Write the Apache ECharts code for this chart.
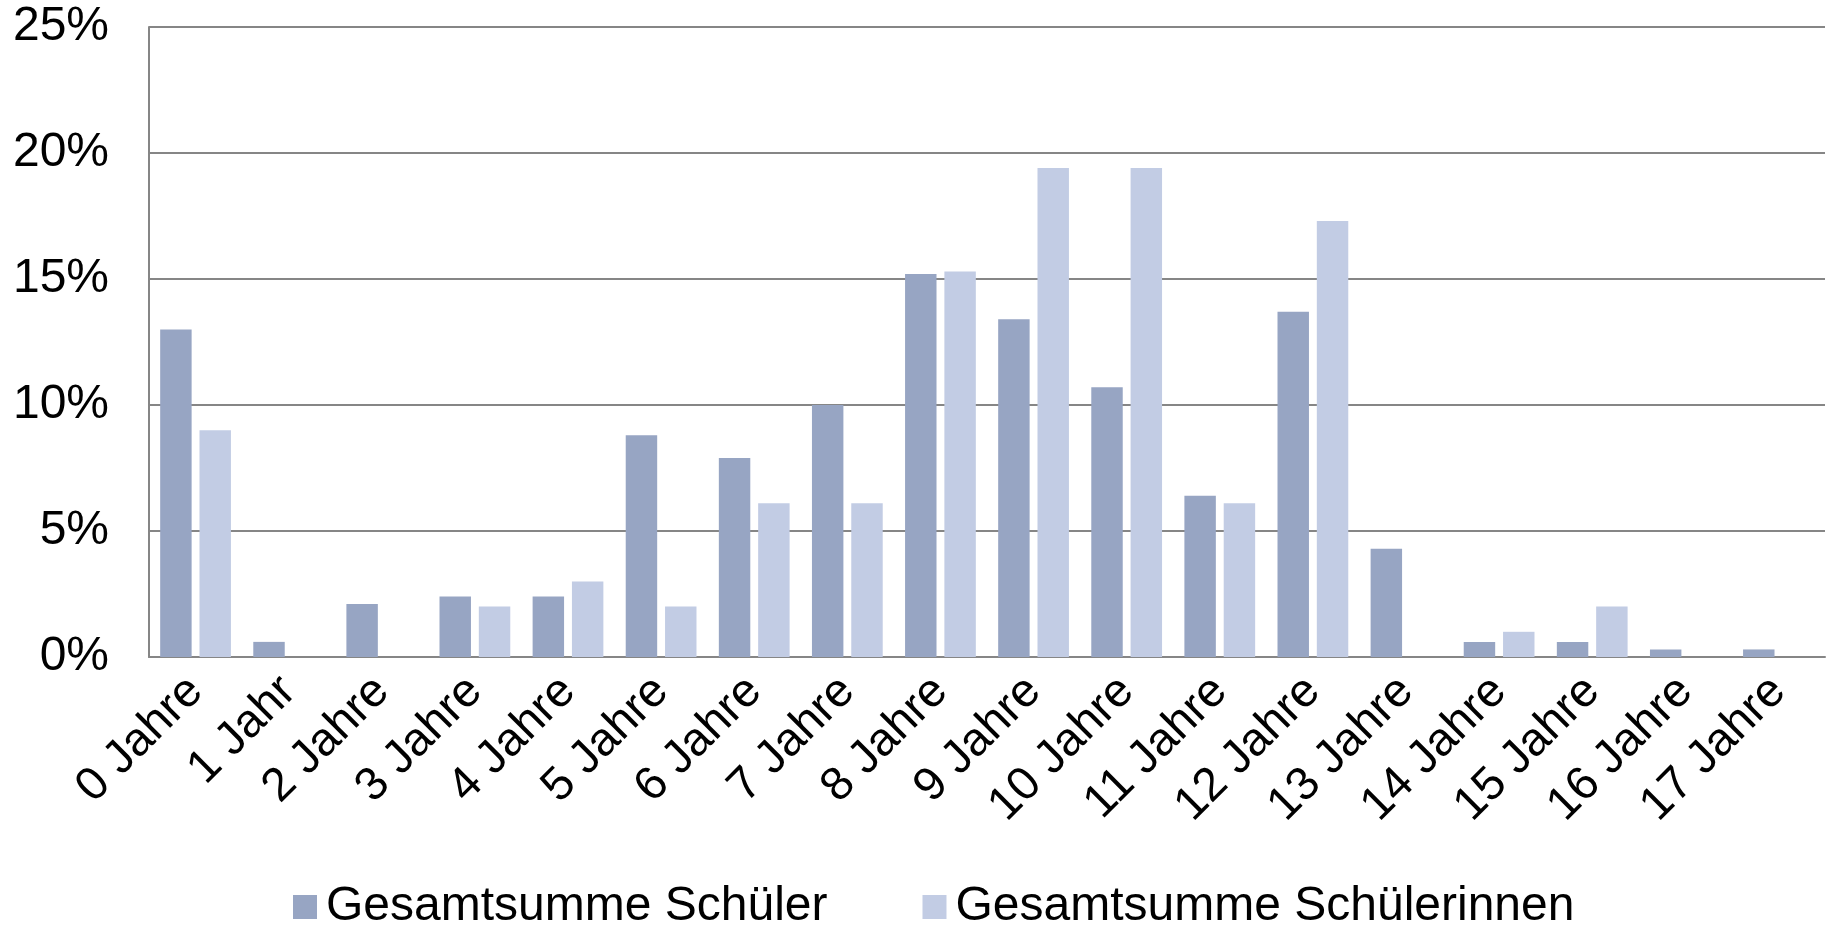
<!DOCTYPE html>
<html lang="de">
  <head>
    <meta charset="UTF-8" />
    <title>Altersverteilung Schüler / Schülerinnen</title>
    <script src="https://cdnjs.cloudflare.com/ajax/libs/echarts/6.0.0/echarts.min.js"></script>
    <style>
      html, body { margin: 0; padding: 0; background: #fff; }
      #main { width: 1826px; height: 930px; }
    </style>
  </head>
  <body>
    <div id="main"></div>
    <script type="text/javascript">
      // Kategorien (Alter)
      var categories = [
        "0 Jahre", "1 Jahr", "2 Jahre", "3 Jahre", "4 Jahre", "5 Jahre",
        "6 Jahre", "7 Jahre", "8 Jahre", "9 Jahre", "10 Jahre", "11 Jahre",
        "12 Jahre", "13 Jahre", "14 Jahre", "15 Jahre", "16 Jahre", "17 Jahre"
      ];
      // Anteile in Prozent
      var schueler = [13.0, 0.6, 2.1, 2.4, 2.4, 8.8, 7.9, 10.0, 15.2, 13.4, 10.7, 6.4, 13.7, 4.3, 0.6, 0.6, 0.3, 0.3];
      var schuelerinnen = [9.0, 0, 0, 2.0, 3.0, 2.0, 6.1, 6.1, 15.3, 19.4, 19.4, 6.1, 17.3, 0, 1.0, 2.0, 0, 0];
      var seriesNames = ["Gesamtsumme Schüler", "Gesamtsumme Schülerinnen"];
      var yTicks = [0, 5, 10, 15, 20, 25];

      var myChart = echarts.init(document.getElementById("main"));
      var font = "'Liberation Sans', Arial, sans-serif";
      var lineColor = "#868686";

      var option = {
        animation: false,
        textStyle: { fontFamily: font },
        grid: { left: 149, right: 1, top: 27, bottom: 273, containLabel: false },
        legend: {
          data: seriesNames,
          left: 288,
          top: 878,
          itemWidth: 24,
          itemHeight: 24,
          itemGap: 95,
          icon: "rect",
          textStyle: { fontSize: 48, color: "#000", fontFamily: font, padding: [0, 0, 0, 4] }
        },
        xAxis: {
          type: "category",
          data: categories,
          axisLine: { lineStyle: { color: lineColor, width: 2 } },
          axisTick: { show: false },
          axisLabel: {
            rotate: 45,
            interval: 0,
            margin: 27,
            fontSize: 47,
            color: "#000",
            fontFamily: font
          }
        },
        yAxis: {
          type: "value",
          min: yTicks[0],
          max: yTicks[yTicks.length - 1],
          interval: yTicks[1] - yTicks[0],
          axisLine: { show: true, lineStyle: { color: lineColor, width: 2 } },
          axisTick: { show: false },
          splitLine: { lineStyle: { color: lineColor, width: 2 } },
          axisLabel: {
            formatter: "{value}%",
            fontSize: 48,
            margin: 40,
            color: "#000",
            fontFamily: font
          }
        },
        series: [
          {
            name: seriesNames[0],
            type: "bar",
            data: schueler,
            barGap: "25%",
            barCategoryGap: "24%",
            itemStyle: { color: "#97a5c3" }
          },
          {
            name: seriesNames[1],
            type: "bar",
            data: schuelerinnen,
            itemStyle: { color: "#c2cce4" }
          }
        ]
      };
      myChart.setOption(option);

      window.onresize = function () {
        myChart.resize();
      };
    </script>
  </body>
</html>
